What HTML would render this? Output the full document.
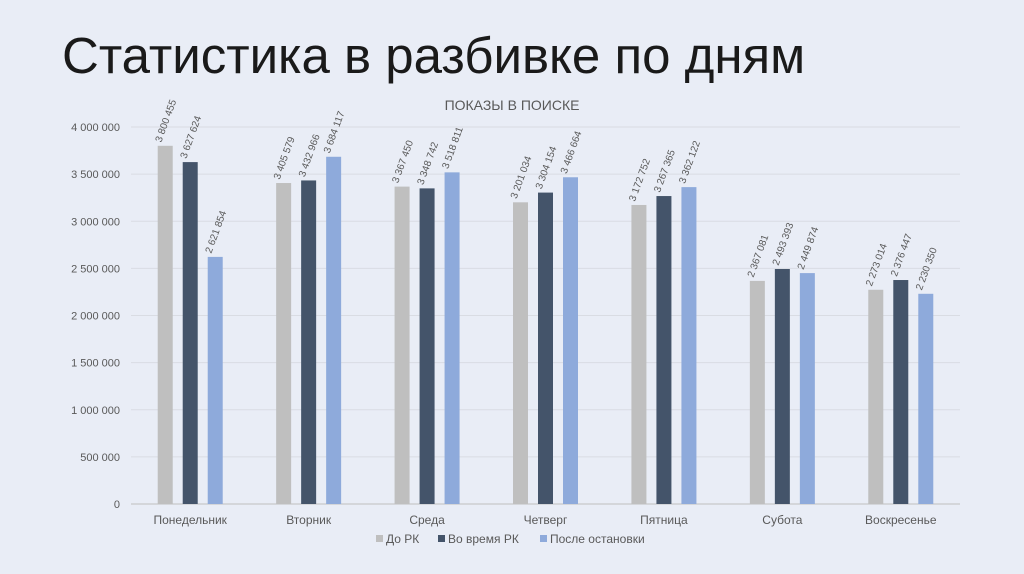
<!DOCTYPE html>
<html><head><meta charset="utf-8"><style>
body{margin:0;background:#e9edf6;width:1024px;height:574px;overflow:hidden;font-family:"Liberation Sans",sans-serif}
h1{position:absolute;left:62px;top:26px;margin:0;font-weight:normal;font-size:51px;color:#1a1a1a}
svg{position:absolute;left:0;top:0}
</style></head><body>
<h1>Статистика в разбивке по дням</h1>
<svg id="c" width="1024" height="574"></svg>
<script>
const categories=["Понедельник","Вторник","Среда","Четверг","Пятница","Субота","Воскресенье"];
const seriesNames=["До РК","Во время РК","После остановки"];
const before=[3800455,3405579,3367450,3201034,3172752,2367081,2273014];
const during=[3627624,3432966,3348742,3304154,3267365,2493393,2376447];
const after=[2621854,3684117,3518811,3466664,3362122,2449874,2230350];
const yTicks=[0,500000,1000000,1500000,2000000,2500000,3000000,3500000,4000000];
const colors=["#bfbfbf","#44546a","#8eaadb"];
const ns="http://www.w3.org/2000/svg",svg=document.getElementById('c');
const x0=131,x1=960,y0=504,yTop=127,yMax=4000000;
const y=v=>y0-(v/yMax)*(y0-yTop);
const bw=(x1-x0)/categories.length;
const xc=i=>x0+bw*(i+0.5);
const fmt=v=>String(v).replace(/\B(?=(\d{3})+(?!\d))/g,' ');
function mk(t,a,txt){const e=document.createElementNS(ns,t);for(const k in a)e.setAttribute(k,a[k]);if(txt!==undefined)e.textContent=txt;svg.appendChild(e);return e;}
let t=mk('text',{x:512,y:110,'text-anchor':'middle','font-size':14,fill:'#595959'},'ПОКАЗЫ В ПОИСКЕ');


yTicks.forEach(v=>{
 let l=mk('line',{x1:x0,x2:x1,y1:y(v),y2:y(v),stroke:v?'#d9dce3':'#bfbfbf','stroke-width':1});
 
 
 let tx=mk('text',{x:120,y:y(v)+4,'text-anchor':'end','font-size':11,fill:'#595959'},fmt(v));
 
 
});
const series=[before,during,after];
categories.forEach((c,i)=>{
 series.forEach((s,j)=>{
  const cx=xc(i)+(j-1)*25,v=s[i];
  let r=mk('rect',{x:cx-7.5,y:y(v),width:15,height:y0-y(v),fill:colors[j]});
  
  
  const lx=cx-4,ly=y(v)-3;
  let lb=mk('text',{x:lx,y:ly,'font-size':10,fill:'#595959',transform:`rotate(-70 ${lx} ${ly})`},fmt(v));
  
  
 });
 let ct=mk('text',{x:xc(i),y:524,'text-anchor':'middle','font-size':12,fill:'#595959'},c);
 
 
});
const lx=[376,438,540];
seriesNames.forEach((n,j)=>{
 let r=mk('rect',{x:lx[j],y:535,width:7,height:7,fill:colors[j]});
 
 
 let tx=mk('text',{x:lx[j]+10,y:543,'font-size':12,fill:'#595959'},n);
 
 
});
</script>
</body></html>
